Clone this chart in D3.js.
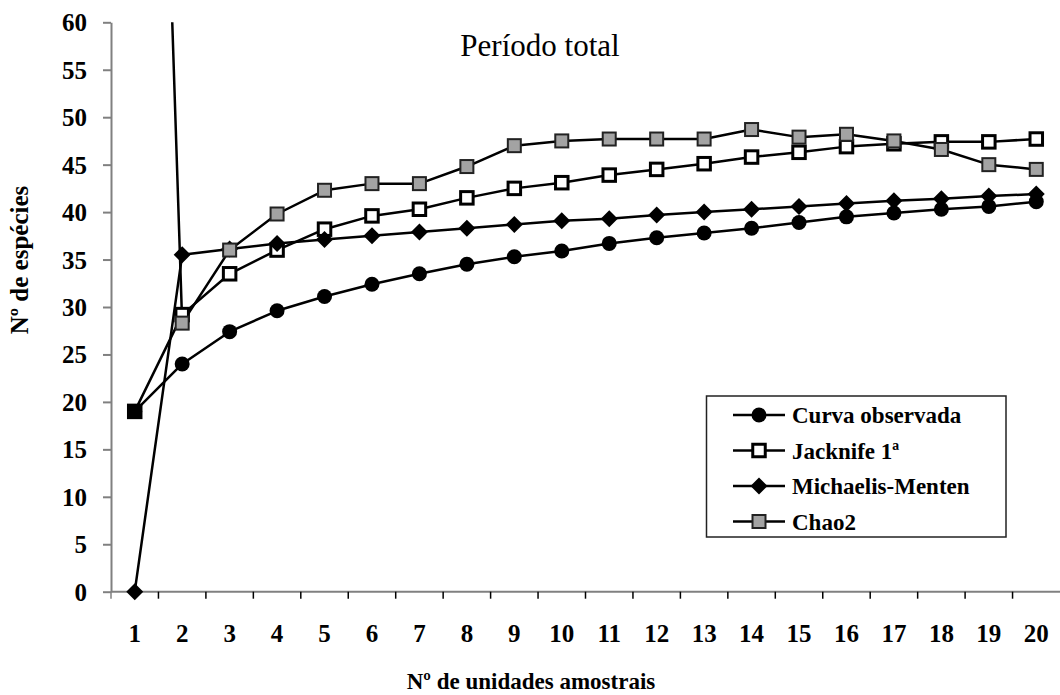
<!DOCTYPE html>
<html>
<head>
<meta charset="utf-8">
<script src="https://cdn.jsdelivr.net/npm/d3@7"></script>
<style>
  html, body { margin: 0; padding: 0; background: #fff; }
  svg { display: block; }
</style>
</head>
<body>
<svg id="chart" width="1060" height="695"></svg>
<script>
// Sample units (x categories)
const units = ["1","2","3","4","5","6","7","8","9","10","11","12","13","14","15","16","17","18","19","20"];

// Species richness per estimator
const curvaObservada = [19, 24.0, 27.4, 29.6, 31.1, 32.4, 33.5, 34.5, 35.3, 35.9, 36.7, 37.3, 37.8, 38.3, 38.9, 39.5, 39.9, 40.3, 40.6, 41.1];
const jacknife1 = [19, 29.2, 33.5, 36.0, 38.2, 39.6, 40.3, 41.5, 42.5, 43.1, 43.9, 44.5, 45.1, 45.8, 46.3, 46.9, 47.2, 47.4, 47.4, 47.7];
const michaelisMenten = [0, 35.5, 36.1, 36.7, 37.1, 37.5, 37.9, 38.3, 38.7, 39.1, 39.3, 39.7, 40.0, 40.3, 40.6, 40.9, 41.2, 41.4, 41.7, 41.9];
const chao2 = [180, 28.3, 36.0, 39.8, 42.3, 43.0, 43.0, 44.8, 47.0, 47.5, 47.7, 47.7, 47.7, 48.7, 47.9, 48.2, 47.5, 46.6, 45.0, 44.5];

// Axis ticks
const yTicks = [0, 5, 10, 15, 20, 25, 30, 35, 40, 45, 50, 55, 60];

const seriesNames = ["Curva observada", "Jacknife 1ª", "Michaelis-Menten", "Chao2"];

const FONT = "'Liberation Serif', 'Times New Roman', serif";

const svg = d3.select("#chart");

const plot = { left: 111, right: 1060, top: 22.3, bottom: 591.7 };

const x = d3.scaleBand().domain(units).range([plot.left, plot.right]).paddingInner(0).paddingOuter(0);
const cx = u => x(u) + x.bandwidth() / 2;
const y = d3.scaleLinear().domain([0, 60]).range([plot.bottom, plot.top]);

// Clip for lines running off the top of the plot
svg.append("defs").append("clipPath").attr("id", "plotClip")
  .append("rect")
  .attr("x", 0).attr("y", plot.top)
  .attr("width", 1060).attr("height", 695 - plot.top);

// Y axis
const yAxis = svg.append("g")
  .attr("transform", `translate(${plot.left},0)`)
  .call(d3.axisLeft(y).tickValues(yTicks).tickSize(8).tickPadding(16).tickSizeOuter(0));
yAxis.select(".domain").attr("stroke", "#808080").attr("stroke-width", 2);
yAxis.selectAll(".tick line").attr("stroke", "#808080").attr("stroke-width", 2);
yAxis.selectAll(".tick text")
  .attr("font-family", FONT).attr("font-weight", "bold").attr("font-size", 25)
  .attr("fill", "#000").attr("dy", "0.34em");

// X axis line
svg.append("line")
  .attr("x1", plot.left).attr("x2", plot.right)
  .attr("y1", plot.bottom).attr("y2", plot.bottom)
  .attr("stroke", "#808080").attr("stroke-width", 2);

// X tick marks at category boundaries
const boundaries = units.map(u => x(u)).concat([x(units[units.length - 1]) + x.bandwidth()]);
svg.append("g").selectAll("line")
  .data(boundaries.filter(b => b < 1059))
  .join("line")
  .attr("x1", d => d).attr("x2", d => d)
  .attr("y1", plot.bottom).attr("y2", plot.bottom + 7)
  .attr("stroke", d => d === plot.left ? "#808080" : "#000")
  .attr("stroke-width", 1.5);

// X tick labels
svg.append("g").selectAll("text")
  .data(units)
  .join("text")
  .attr("x", d => cx(d))
  .attr("y", 642)
  .attr("text-anchor", "middle")
  .attr("font-family", FONT).attr("font-weight", "bold").attr("font-size", 25)
  .text(d => d);

// Titles
svg.append("text")
  .attr("x", 540).attr("y", 56)
  .attr("text-anchor", "middle")
  .attr("font-family", FONT).attr("font-size", 31)
  .text("Período total");

svg.append("text")
  .attr("transform", "translate(28,260) rotate(-90)")
  .attr("text-anchor", "middle")
  .attr("font-family", FONT).attr("font-weight", "bold").attr("font-size", 25)
  .text("Nº de espécies");

svg.append("text")
  .attr("x", 531).attr("y", 689)
  .attr("text-anchor", "middle")
  .attr("font-family", FONT).attr("font-weight", "bold").attr("font-size", 23)
  .text("Nº de unidades amostrais");

// Marker drawing
function drawMarker(g, type, px, py) {
  if (type === "circle") {
    g.append("circle").attr("cx", px).attr("cy", py).attr("r", 7.5).attr("fill", "#000");
  } else if (type === "diamond") {
    const s = 8.5;
    g.append("path")
      .attr("d", `M${px},${py - s}L${px + s},${py}L${px},${py + s}L${px - s},${py}Z`)
      .attr("fill", "#000");
  } else if (type === "openSquare") {
    const s = 12.5;
    g.append("rect").attr("x", px - s / 2).attr("y", py - s / 2)
      .attr("width", s).attr("height", s)
      .attr("fill", "#fff").attr("stroke", "#000").attr("stroke-width", 3);
  } else if (type === "graySquare") {
    const s = 13;
    g.append("rect").attr("x", px - s / 2).attr("y", py - s / 2)
      .attr("width", s).attr("height", s)
      .attr("fill", "#a3a3a3").attr("stroke", "#222").attr("stroke-width", 2);
  }
}

const series = [
  { name: seriesNames[1], values: jacknife1, marker: "openSquare" },
  { name: seriesNames[0], values: curvaObservada, marker: "circle" },
  { name: seriesNames[2], values: michaelisMenten, marker: "diamond" },
  { name: seriesNames[3], values: chao2, marker: "graySquare" }
];

const line = d3.line().x(d => cx(d.u)).y(d => y(d.v));

const linesG = svg.append("g").attr("clip-path", "url(#plotClip)");
series.forEach(s => {
  const pts = units.map((u, i) => ({ u, v: s.values[i] }));
  linesG.append("path")
    .datum(pts)
    .attr("d", line)
    .attr("fill", "none")
    .attr("stroke", "#000")
    .attr("stroke-width", 2.5)
    .attr("stroke-linejoin", "round");
});

const markersG = svg.append("g");
series.forEach(s => {
  units.forEach((u, i) => {
    const v = s.values[i];
    if (v <= 60) drawMarker(markersG, s.marker, cx(u), y(v));
  });
});

// Legend
const legend = svg.append("g");
legend.append("rect")
  .attr("x", 706.5).attr("y", 396)
  .attr("width", 299.5).attr("height", 141)
  .attr("fill", "#fff").attr("stroke", "#222").attr("stroke-width", 1.5);

const legendItems = [
  { name: seriesNames[0], marker: "circle" },
  { name: seriesNames[1], marker: "openSquare" },
  { name: seriesNames[2], marker: "diamond" },
  { name: seriesNames[3], marker: "graySquare" }
];
const rowY = [415, 450.5, 486, 521.5];
legendItems.forEach((it, i) => {
  const ly = rowY[i];
  legend.append("line")
    .attr("x1", 733).attr("x2", 785).attr("y1", ly).attr("y2", ly)
    .attr("stroke", "#000").attr("stroke-width", 2.5);
  drawMarker(legend, it.marker, 759, ly);
  legend.append("text")
    .attr("x", 792).attr("y", ly + 8)
    .attr("font-family", FONT).attr("font-weight", "bold").attr("font-size", 23)
    .text(it.name);
});
</script>
</body>
</html>
